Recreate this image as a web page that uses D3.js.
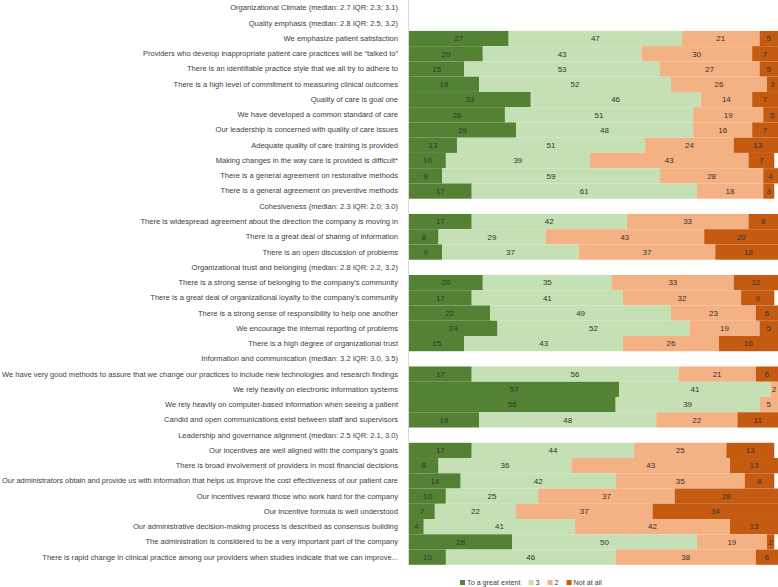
<!DOCTYPE html>
<html>
<head>
<meta charset="utf-8">
<script src="https://cdn.jsdelivr.net/npm/d3@7"></script>
<style>
  body { margin: 0; background: #fff; }
  svg { display: block; font-family: "Liberation Sans", Arial, sans-serif; }
</style>
</head>
<body>
<svg id="chart" width="778" height="587"></svg>
<script>
const labels = [
  "Organizational Climate (median: 2.7 IQR: 2.3; 3.1)",
  "Quality emphasis (median: 2.8 IQR: 2.5, 3.2)",
  "We emphasize patient satisfaction",
  "Providers who develop inappropriate patient care practices will be \u201ctalked to\u201d",
  "There is an identifiable practice style that we all try to adhere to",
  "There is a high level of commitment to measuring clinical outcomes",
  "Quality of care is goal one",
  "We have developed a common standard of care",
  "Our leadership is concerned with quality of care issues",
  "Adequate quality of care training is provided",
  "Making changes in the way care is provided is difficult*",
  "There is a general agreement on restorative methods",
  "There is a general agreement on preventive methods",
  "Cohesiveness (median: 2.3 IQR: 2.0; 3.0)",
  "There is widespread agreement about the direction the company is moving in",
  "There is a great deal of sharing of information",
  "There is an open discussion of problems",
  "Organizational trust and belonging (median: 2.8 IQR: 2.2, 3.2)",
  "There is a strong sense of belonging to the company's community",
  "There is a great deal of organizational loyalty to the company's community",
  "There is a strong sense of responsibility to help one another",
  "We encourage the internal reporting of problems",
  "There is a high degree of organizational trust",
  "Information and communication (median: 3.2 IQR: 3.0, 3.5)",
  "We have very good methods to assure that we change our practices to include new technologies and research findings",
  "We rely heavily on electronic information systems",
  "We rely heavily on computer-based information when seeing a patient",
  "Candid and open communications exist between staff and supervisors",
  "Leadership and governance alignment (median: 2.5 IQR: 2.1, 3.0)",
  "Our incentives are well aligned with the company's goals",
  "There is broad involvement of providers in most financial decisions",
  "Our administrators obtain and provide us with information that helps us improve the cost effectiveness of our patient care",
  "Our incentives reward those who work hard for the company",
  "Our incentive formula is well understood",
  "Our administrative decision-making process is described as consensus building",
  "The administration is considered to be a very important part of the company",
  "There is rapid change in clinical practice among our providers when studies indicate that we can improve..."
];
// null = section heading row (no bar)
const greatExtent = [null,null,27,20,15,19,33,26,29,13,10,9,17,null,17,8,9,null,20,17,22,24,15,null,17,57,56,19,null,17,8,14,10,7,4,28,10];
const three       = [null,null,47,43,53,52,46,51,48,51,39,59,61,null,42,29,37,null,35,41,49,52,43,null,56,41,39,48,null,44,36,42,25,22,41,50,46];
const two         = [null,null,21,30,27,26,14,19,16,24,43,28,18,null,33,43,37,null,33,32,23,19,26,null,21,2,5,22,null,25,43,35,37,37,42,19,38];
const notAtAll    = [null,null,5,7,5,3,7,5,7,13,7,4,3,null,8,20,18,null,12,9,6,5,16,null,6,0,0,11,null,13,13,8,28,34,13,2,6];
const seriesNames = ["To a great extent", "3", "2", "Not at all"];
const colors = ["#548235", "#C5E0B4", "#F4B183", "#C55A11"];

const svg = d3.select("#chart");
const plotLeft = 409, plotRight = 778, plotTop = 0.4, plotBottom = 564.8;

const y = d3.scaleBand().domain(d3.range(labels.length)).range([plotTop, plotBottom]).padding(0);
const x = d3.scaleLinear().domain([0, 100]).range([plotLeft, plotRight]);

const seriesArr = [greatExtent, three, two, notAtAll];

// bars
labels.forEach((lab, i) => {
  if (greatExtent[i] === null) return;
  let cum = 0;
  seriesArr.forEach((arr, s) => {
    const v = arr[i];
    if (v > 0) {
      svg.append("rect")
        .attr("x", x(cum))
        .attr("y", y(i))
        .attr("width", x(cum + v) - x(cum))
        .attr("height", y.bandwidth())
        .attr("fill", colors[s]);
    }
    cum += v;
  });
});

// segment labels
labels.forEach((lab, i) => {
  if (greatExtent[i] === null) return;
  let cum = 0;
  seriesArr.forEach((arr, s) => {
    const v = arr[i];
    if (v > 0) {
      svg.append("text")
        .attr("x", (x(cum) + x(cum + v)) / 2)
        .attr("y", y(i) + y.bandwidth() / 2)
        .attr("dy", "0.35em")
        .attr("text-anchor", "middle")
        .attr("font-size", 8)
        .attr("fill", "#333333")
        .text(v);
    }
    cum += v;
  });
});

// axis line
svg.append("line")
  .attr("x1", plotLeft - 0.5).attr("x2", plotLeft - 0.5)
  .attr("y1", 0).attr("y2", plotBottom)
  .attr("stroke", "#d9d9d9").attr("stroke-width", 1);

// category labels
const yAxis = d3.axisLeft(y).tickSize(0).tickPadding(11).tickFormat(i => labels[i]);
const g = svg.append("g").attr("transform", `translate(${plotLeft},0)`).call(yAxis);
g.select(".domain").remove();
const maxLabelW = 396;
g.selectAll("text").attr("font-size", 7.55).attr("fill", "#404040")
  .attr("font-family", "'Liberation Sans', Arial, sans-serif")
  .each(function () {
    if (this.getComputedTextLength() > maxLabelW) {
      d3.select(this).attr("textLength", maxLabelW).attr("lengthAdjust", "spacingAndGlyphs");
    }
  });

// legend (laid out sequentially, centred under the plot)
const legend = svg.append("g");
let lx = 0;
seriesNames.forEach((n, s) => {
  const item = legend.append("g").attr("transform", `translate(${lx},0)`);
  item.append("rect").attr("x", 0).attr("y", 580).attr("width", 5).attr("height", 5).attr("fill", colors[s]);
  const t = item.append("text").attr("x", 7).attr("y", 582.5).attr("dy", "0.35em")
    .attr("font-size", 7.2).attr("fill", "#404040").text(n);
  lx += 7 + t.node().getComputedTextLength() + 8;
});
const legendW = lx - 8;
legend.attr("transform", `translate(${531 - legendW / 2},0)`);
</script>
</body>
</html>
